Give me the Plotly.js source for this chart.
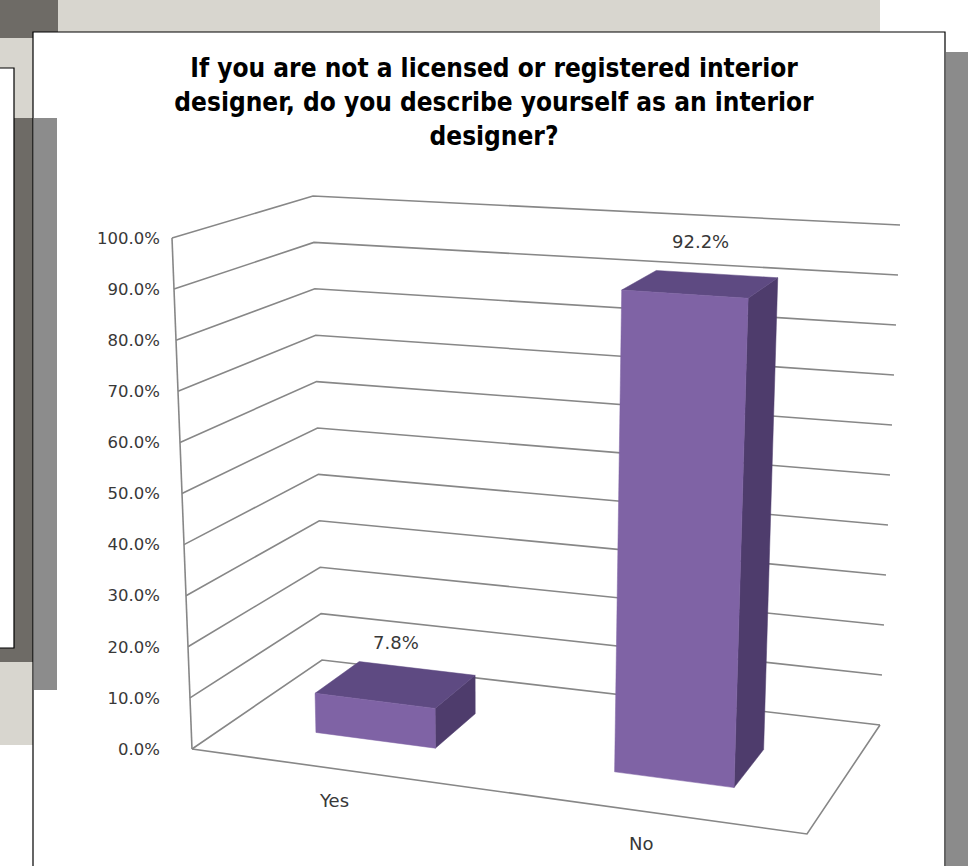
<!DOCTYPE html>
<html>
<head>
<meta charset="utf-8">
<script src="https://cdn.plot.ly/plotly-3.0.1.min.js"></script>
<style>
  html, body { margin: 0; padding: 0; background: #ffffff; }
  #chart { width: 968px; height: 866px; }
</style>
</head>
<body>
<div id="chart"></div>
<script>
// ---------------- data ----------------
const categories = ["Yes", "No"];
const values = [0.078, 0.922];
const valueLabels = ["7.8%", "92.2%"];
const tickValues = [0, 0.1, 0.2, 0.3, 0.4, 0.5, 0.6, 0.7, 0.8, 0.9, 1.0];
const titleLines = [
  "If you are not a licensed or registered interior",
  "designer, do you describe yourself as an interior",
  "designer?"
];

// ---------------- layout geometry (pixels) ----------------
const W = 968, H = 866;
// corners of the 3-D plot box: floor (0%) and top (100%)
const BOX = {
  floor: { fl: [192, 749], fr: [807, 834], bl: [322, 660], br: [880, 725] },
  top:   { fl: [172, 238], fr: [829, 280], bl: [313, 196], br: [900, 225] }
};
const AX0 = 749;   // pixel row of 0% on the front value edge
const AXS = 511;   // pixels per 100% on the front value edge
const BAR_WIDTH = 0.2;        // share of the category axis
const CAT_SHIFT = -0.01;      // small shift of category centres
const BAR_FRONT = 0.31, BAR_BACK = 0.67;  // depth range of bars

const COLORS = {
  grid: "#878787",
  front: "#7f63a5",
  top: "#5e4a82",
  side: "#4e3c6c",
  text: "#383838"
};

function bil(c, u, w) {
  return [
    (1 - u) * (1 - w) * c.fl[0] + u * (1 - w) * c.fr[0] + (1 - u) * w * c.bl[0] + u * w * c.br[0],
    (1 - u) * (1 - w) * c.fl[1] + u * (1 - w) * c.fr[1] + (1 - u) * w * c.bl[1] + u * w * c.br[1]
  ];
}
// u: across categories (0..1), v: value (0..1), w: depth (0 front .. 1 back)
// returns [x data (pixel units), y data (value units on the front edge scale)]
function proj(u, v, w) {
  const a = bil(BOX.floor, u, w), b = bil(BOX.top, u, w);
  const px = a[0] + v * (b[0] - a[0]);
  const py = a[1] + v * (b[1] - a[1]);
  return [px, (AX0 - py) / AXS];
}
function pathTrace(points, opts) {
  const x = [], y = [];
  points.forEach(p => { if (p === null) { x.push(null); y.push(null); } else { x.push(p[0]); y.push(p[1]); } });
  return Object.assign({ type: "scatter", mode: "lines", x, y, hoverinfo: "skip", showlegend: false }, opts);
}

const traces = [];

// walls: gridlines on left and back walls
const gridPts = [];
tickValues.forEach(t => {
  gridPts.push(proj(0, t, 0), proj(0, t, 1), proj(1, t, 1), null);
});
// front-left vertical edge, floor front and right edges
gridPts.push(proj(0, 0, 0), proj(0, 1, 0), null);
gridPts.push(proj(0, 0, 0), proj(1, 0, 0), proj(1, 0, 1), null);
traces.push(pathTrace(gridPts, { line: { color: COLORS.grid, width: 1.6 }, connectgaps: false }));

// bars (3-D boxes)
const n = categories.length;
const annotations = [];
categories.forEach((cat, i) => {
  const c = (i + 0.5) / n + CAT_SHIFT;
  const uL = c - BAR_WIDTH / 2, uR = c + BAR_WIDTH / 2;
  const v = values[i];
  const w0 = BAR_FRONT, w1 = BAR_BACK;
  const front = [proj(uL, 0, w0), proj(uR, 0, w0), proj(uR, v, w0), proj(uL, v, w0), proj(uL, 0, w0)];
  const side = [proj(uR, 0, w0), proj(uR, 0, w1), proj(uR, v, w1), proj(uR, v, w0), proj(uR, 0, w0)];
  const top = [proj(uL, v, w0), proj(uR, v, w0), proj(uR, v, w1), proj(uL, v, w1), proj(uL, v, w0)];
  [[side, COLORS.side], [top, COLORS.top], [front, COLORS.front]].forEach(([pts, col]) => {
    traces.push(pathTrace(pts, { fill: "toself", fillcolor: col, line: { color: col, width: 0.5 } }));
  });
  const lab = proj(c, v, (w0 + w1) / 2);
  annotations.push({
    x: lab[0], y: lab[1], xref: "x", yref: "y", text: valueLabels[i], showarrow: false,
    xanchor: "center", yanchor: "bottom", yshift: 30,
    font: { family: "DejaVu Sans, sans-serif", size: 18, color: COLORS.text }
  });
  const cl = proj(c, 0, 0);
  annotations.push({
    x: cl[0], y: cl[1], xref: "x", yref: "y", text: cat, showarrow: false,
    xanchor: "center", yanchor: "top", yshift: -19, xshift: -6,
    font: { family: "DejaVu Sans, sans-serif", size: 18, color: COLORS.text }
  });
});

// background decorations (pixel rectangles -> paper)
function rect(x0, y0, x1, y1, fill, line) {
  return {
    type: "rect", xref: "paper", yref: "paper", layer: "below",
    x0: x0 / W, x1: x1 / W, y0: 1 - y0 / H, y1: 1 - y1 / H,
    fillcolor: fill, line: line || { width: 0 }
  };
}
const shapes = [
  rect(58, 0, 880, 32, "#d8d6cf"),
  rect(0, 0, 58, 38, "#6e6b66"),
  rect(0, 38, 33, 745, "#d8d6cf"),
  rect(0, 118, 33, 662, "#6e6b66"),
  rect(-2, 68, 14, 648, "#ffffff", { color: "#000000", width: 1.2 }),
  rect(946, 52, 968, 870, "#8b8b8b"),
  rect(33, 32, 945, 870, "#ffffff", { color: "#000000", width: 1.2 }),
  rect(34, 118, 57, 690, "#8c8c8c")
];

const layout = {
  width: W, height: H, autosize: false,
  margin: { l: 0, r: 0, t: 0, b: 0, pad: 0 },
  paper_bgcolor: "#ffffff",
  plot_bgcolor: "rgba(0,0,0,0)",
  showlegend: false,
  hovermode: false,
  title: {
    text: titleLines.join("<br>"),
    font: { family: "Liberation Sans Narrow, DejaVu Sans Condensed, Roboto, sans-serif", size: 26, color: "#000000", weight: 700 },
    x: 494 / W, xanchor: "center", xref: "paper",
    y: 1 - 77 / H, yanchor: "top", yref: "container"
  },
  xaxis: { range: [0, W], visible: false, fixedrange: true },
  yaxis: {
    range: [(AX0 - H) / AXS, AX0 / AXS],
    anchor: "free", position: 160 / W, side: "left",
    tickvals: tickValues, tickformat: ".1%",
    showgrid: false, zeroline: false, showline: false, ticks: "",
    tickfont: { family: "DejaVu Sans, sans-serif", size: 16.5, color: COLORS.text },
    fixedrange: true
  },
  shapes: shapes,
  annotations: annotations
};

Plotly.newPlot("chart", traces, layout, { staticPlot: true, displayModeBar: false });
</script>
</body>
</html>
